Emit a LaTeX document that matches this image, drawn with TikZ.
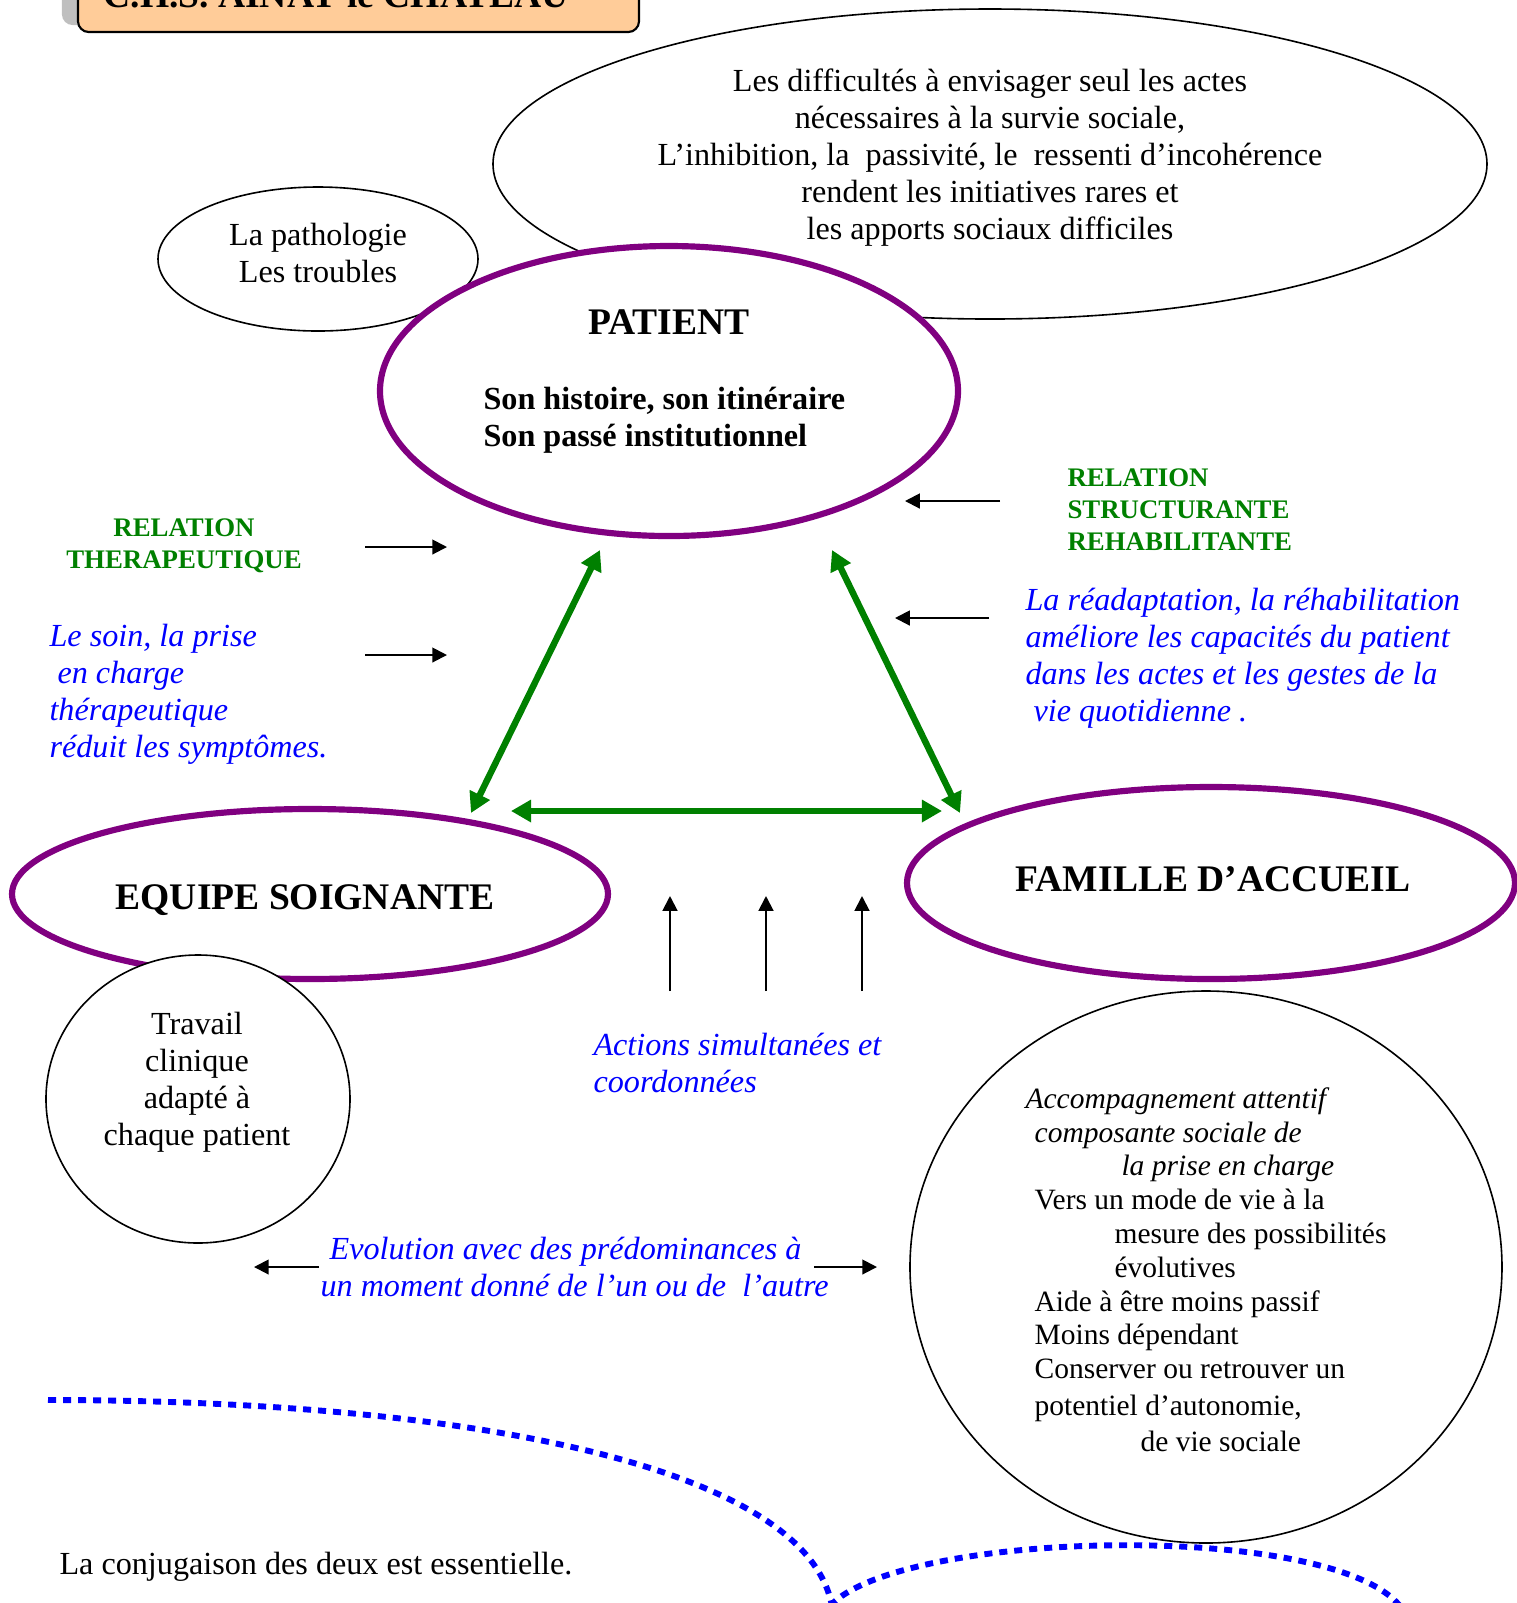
\documentclass[tikz,border=0pt]{standalone}
\usepackage{fontspec}
\setmainfont{Liberation Serif}
\usepackage{xcolor}
\usepackage{tikz}
\usetikzlibrary{positioning,calc,arrows.meta,shapes.geometric,shadows}
\definecolor{CHSPurple}{RGB}{128,0,128}
\definecolor{CHSGreen}{RGB}{0,128,0}
\definecolor{CHSBlue}{RGB}{0,0,255}
\definecolor{CHSOrange}{RGB}{255,204,153}

\begin{document}
\begin{tikzpicture}[x=0.0131cm, y=-0.0131cm,
                % Taille d'une bulle (en pixels de l'image)
                dims/.style 2 args={minimum width=#1*0.0131cm, minimum height=#2*0.0131cm},
                % Style pour le cadre du titre
                titrebox/.style={
                    draw=black, line width=0.8pt, fill=CHSOrange, rounded corners=4pt,
                    drop shadow={shadow xshift=-6pt, shadow yshift=2.6pt, fill=black!25, opacity=1}
                },
                % Style pour les bulles fines
                bulle/.style={
                    ellipse, draw=black, line width=0.6pt, fill=white, inner sep=0pt
                },
                % Style pour les trois poles (violet)
                pole/.style={
                    ellipse, draw=CHSPurple, line width=2.3pt, fill=white, inner sep=0pt
                },
                % Styles de texte
                texte/.style={font=\fontsize{12}{13.8}\selectfont, inner sep=0pt},
                gras/.style={font=\fontsize{12}{13.8}\selectfont\bfseries, inner sep=0pt},
                titre/.style={font=\fontsize{14}{16}\selectfont\bfseries, inner sep=0pt},
                relation/.style={font=\fontsize{10}{11.9}\selectfont\bfseries, text=CHSGreen, inner sep=0pt},
                soin/.style={font=\fontsize{12}{13.8}\selectfont\itshape, text=CHSBlue, inner sep=0pt},
                accomp/.style={font=\fontsize{11}{12.6}\selectfont, inner sep=0pt},
                % Fleches
                fleche/.style={-{Triangle[length=5.5pt,width=5.5pt]}, line width=0.75pt},
                lien/.style={
                    {Triangle[length=7.5pt,width=8pt]}-{Triangle[length=7.5pt,width=8pt]},
                    line width=2.4pt, draw=CHSGreen
                },
                pointilles/.style={draw=CHSBlue, line width=2.2pt, dash pattern=on 3pt off 2.6pt}
            ]
                \useasboundingbox (0,0) rectangle (1517,1603);
                \clip (0,0) rectangle (1517,1603);

                % --- 1. Cadre du titre ---
                \node[titrebox, dims={561}{75}] (cadre) at (358.5,-5.5) {};
                \node[titre, anchor=base west] (chs) at (103,7) {C.H.S. AINAY le CHATEAU};

                % --- 2. Bulles et poles ---
                \node[bulle, dims={994}{310}] (difficultes) at (990,164) {};
                \node[bulle, dims={320}{144}] (pathologie) at (318,259) {};
                \node[pole, dims={578}{290}] (patient) at (669,391) {};
                \node[pole, dims={596}{170}] (equipe) at (310,894) {};
                \node[bulle, dims={304}{288}] (travail) at (198,1099) {};
                \node[pole, dims={608}{192}] (famille) at (1211,883) {};
                \node[bulle, dims={592}{552}] (accompagnement) at (1206,1267) {};

                % --- 3. Textes des bulles ---
                \node[texte, align=center, anchor=north] (txtdiff) at (990,68)
                    {Les difficultés à envisager seul les actes\\nécessaires à la survie sociale,\\L’inhibition, la~ passivité, le~ ressenti d’incohérence\\rendent les initiatives rares et\\les apports sociaux difficiles};
                \node[texte, align=center, anchor=north] (txtpatho) at (318,223) {La pathologie\\Les troubles};
                \node[titre] (txtpatient) at (669,322) {PATIENT};
                \node[gras, align=left, anchor=north west] (txthist) at (483,387) {Son histoire, son itinéraire\\Son passé institutionnel};
                \node[titre] (txtequipe) at (305,900) {EQUIPE SOIGNANTE};
                \node[titre] (txtfamille) at (1213,879) {FAMILLE D’ACCUEIL};
                \node[texte, align=center, anchor=north] (txttravail) at (197,1012) {Travail\\clinique\\adapté à\\chaque patient};
                \node[accomp, align=left, anchor=north west] (txtaccomp) at (1025,1087)
                    {\textit{Accompagnement attentif}\\\hspace*{3.4pt}\textit{composante sociale de}\\\hspace*{35.8pt}\textit{la prise en charge}\\\hspace*{3.4pt}Vers un mode de vie à la\\\hspace*{33.2pt}mesure des possibilités\\\hspace*{33.2pt}évolutives\\\hspace*{3.4pt}Aide à être moins passif\\\hspace*{3.4pt}Moins dépendant\\\hspace*{3.4pt}Conserver ou retrouver un\\[1pt]\hspace*{3.4pt}potentiel d’autonomie,\\[1pt]\hspace*{42.9pt}de vie sociale};

                % --- 4. Relations et commentaires ---
                \node[relation, align=center, anchor=north] (reltherap) at (184,518) {RELATION\\THERAPEUTIQUE};
                \node[relation, align=left, anchor=north west] (relstruct) at (1067,468) {RELATION\\STRUCTURANTE\\REHABILITANTE};
                \node[soin, align=left, anchor=north west] (txtsoin) at (49,624)
                    {Le soin, la prise\\\hspace*{3pt}en charge\\thérapeutique\\réduit les symptômes.};
                \node[soin, align=left, anchor=north west] (txtreadapt) at (1025,588)
                    {La réadaptation, la réhabilitation\\améliore les capacités du patient\\dans les actes et les gestes de la\\\hspace*{3pt}vie quotidienne .};
                \node[soin, align=left, anchor=north west] (txtactions) at (593,1033) {Actions simultanées et\\coordonnées};
                \node[soin, align=left, anchor=north west] (txtevol) at (320,1237)
                    {\hspace*{3.4pt}Evolution avec des prédominances à\\un moment donné de l’un ou de~ l’autre};
                \node[texte, anchor=base west] (txtconj) at (59,1574) {La conjugaison des deux est essentielle.};

                % --- 5. Fleches vertes entre les poles ---
                \coordinate (patG) at (600,550); \coordinate (patD) at (832,550);
                \coordinate (equH) at (471,813); \coordinate (equD) at (511,811);
                \coordinate (famH) at (960,813); \coordinate (famG) at (942,811);
                \draw[lien] (patG) -- (equH);
                \draw[lien] (patD) -- (famH);
                \draw[lien] (equD) -- (famG);

                % --- 6. Petites fleches noires ---
                \coordinate (thA) at (365,547); \coordinate (thB) at (447,547);
                \coordinate (soA) at (365,655); \coordinate (soB) at (447,655);
                \coordinate (stA) at (1000,501); \coordinate (stB) at (905,501);
                \coordinate (reA) at (989,618); \coordinate (reB) at (895,618);
                \draw[fleche] (thA) -- (thB);
                \draw[fleche] (soA) -- (soB);
                \draw[fleche] (stA) -- (stB);
                \draw[fleche] (reA) -- (reB);
                \foreach \x/\n in {670/1, 766/2, 862/3} {
                    \coordinate (bas\n) at (\x,991);
                    \coordinate (haut\n) at (\x,896);
                    \draw[fleche] (bas\n) -- (haut\n);
                }
                \coordinate (evG) at (319,1267); \coordinate (evGf) at (254,1267);
                \coordinate (evD) at (814,1267); \coordinate (evDf) at (877,1267);
                \draw[fleche] (evG) -- (evGf);
                \draw[fleche] (evD) -- (evDf);

                % --- 7. Courbes en pointilles ---
                \coordinate (c1a) at (48,1400); \coordinate (c1b) at (832,1606);
                \coordinate (c2a) at (830,1606); \coordinate (c2b) at (1400,1606);
                \draw[pointilles] (c1a) .. controls (450,1400) and (805,1462) .. (c1b);
                \draw[pointilles] (c2a) .. controls (900,1530) and (1330,1520) .. (c2b);

            \end{tikzpicture}
\end{document}
